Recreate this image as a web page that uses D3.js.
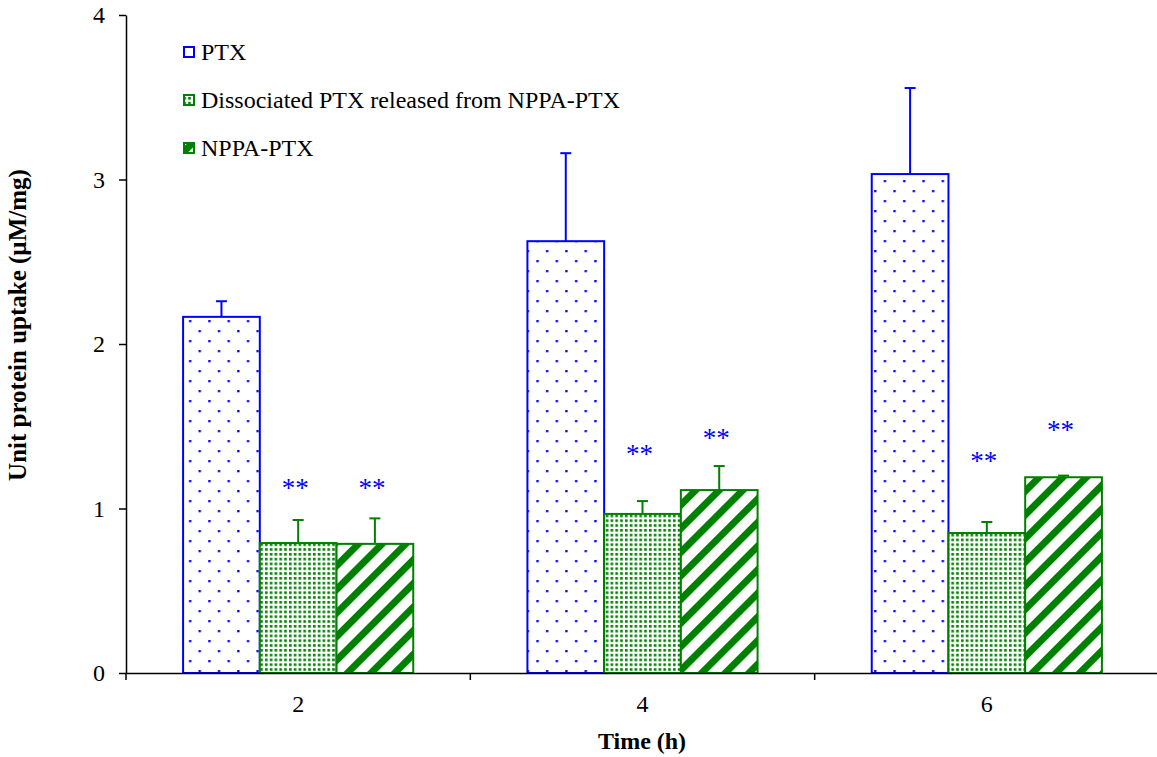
<!DOCTYPE html>
<html><head><meta charset="utf-8">
<script src="https://cdn.jsdelivr.net/npm/d3@7"></script>
<style>body{margin:0;background:#fff}svg{display:block}</style>
</head><body>
<svg id="c" width="1157" height="757"></svg>
<script>
const categories = ["2", "4", "6"];
const seriesNames = ["PTX", "Dissociated PTX released from NPPA-PTX", "NPPA-PTX"];
const ptx = [2.165, 2.625, 3.033];
const ptxErr = [0.095, 0.535, 0.523];
const dissociated = [0.79, 0.967, 0.851];
const dissociatedErr = [0.14, 0.078, 0.067];
const nppa = [0.785, 1.112, 1.19];
const nppaErr = [0.155, 0.146, 0.01];
const sigDissociated = [1.155, 1.362, 1.319];
const sigNppa = [1.155, 1.459, 1.508];
const yTicks = [0, 1, 2, 3, 4];

const FONT = "'Liberation Serif', 'Times New Roman', Times, serif";
const svg = d3.select("#c").attr("font-family", FONT);
const blue = "#0000ff", green = "#008000";
const defs = svg.append("defs");
// PTX dots
const p1 = defs.append("pattern").attr("id","pDots").attr("patternUnits","userSpaceOnUse")
  .attr("width",19.3).attr("height",20).attr("x",183).attr("y",0);
p1.append("rect").attr("x",6).attr("y",0).attr("width",2.3).attr("height",2.3).attr("fill",blue);
p1.append("rect").attr("x",15.6).attr("y",10).attr("width",2.3).attr("height",2.3).attr("fill",blue);
// dissociated fine grid
const p2 = defs.append("pattern").attr("id","pGrid").attr("patternUnits","userSpaceOnUse")
  .attr("width",4.8).attr("height",4.8);
p2.append("rect").attr("width",4.8).attr("height",4.8).attr("fill","#fff");
p2.append("rect").attr("x",1).attr("y",1).attr("width",2.6).attr("height",2.6).attr("fill",green);
// stripes
const p3 = defs.append("pattern").attr("id","pStripe").attr("patternUnits","userSpaceOnUse")
  .attr("width",16.7).attr("height",16.7).attr("patternTransform","rotate(45)");
p3.append("rect").attr("width",16.7).attr("height",16.7).attr("fill","#fff");
p3.append("rect").attr("x",0).attr("y",0).attr("width",7).attr("height",16.7).attr("fill",green);

const fills = ["url(#pDots)", "url(#pGrid)", "url(#pStripe)"];
const strokes = [blue, green, green];
const values = [ptx, dissociated, nppa];
const errs = [ptxErr, dissociatedErr, nppaErr];

const x0 = d3.scaleBand().domain(categories).range([126, 1159]).paddingInner(0).paddingOuter(0);
const x1 = d3.scaleBand().domain(d3.range(3)).range([0, x0.bandwidth()]).paddingInner(0).paddingOuter(0.744);
const y = d3.scaleLinear().domain([0, 4]).range([673, 15]);

// bars
values.forEach((vals, s) => {
  const g = svg.append("g");
  g.selectAll("rect").data(categories).join("rect")
    .attr("x", (c) => x0(c) + x1(s))
    .attr("y", (c, i) => y(vals[i]))
    .attr("width", x1.bandwidth())
    .attr("height", (c, i) => y(0) - y(vals[i]))
    .attr("fill", "#fff");
  g.selectAll("rect.p").data(categories).join("rect").attr("class","p")
    .attr("x", (c) => x0(c) + x1(s))
    .attr("y", (c, i) => y(vals[i]))
    .attr("width", x1.bandwidth())
    .attr("height", (c, i) => y(0) - y(vals[i]))
    .attr("fill", fills[s]).attr("stroke", strokes[s]).attr("stroke-width", 2);
  const eg = svg.append("g").attr("stroke", strokes[s]).attr("stroke-width", 2);
  categories.forEach((c, i) => {
    const cx = x0(c) + x1(s) + x1.bandwidth() / 2;
    eg.append("line").attr("x1", cx).attr("x2", cx).attr("y1", y(vals[i])).attr("y2", y(vals[i] + errs[s][i]));
    eg.append("line").attr("x1", cx - 5.5).attr("x2", cx + 5.5).attr("y1", y(vals[i] + errs[s][i])).attr("y2", y(vals[i] + errs[s][i]));
  });
});

// significance markers
[[1, sigDissociated], [2, sigNppa]].forEach(([s, arr]) => {
  svg.append("g").selectAll("text").data(categories).join("text")
    .attr("x", (c) => x0(c) + x1(s) + x1.bandwidth() / 2 - 3)
    .attr("y", (c, i) => y(arr[i]) + 14)
    .attr("text-anchor", "middle").attr("font-size", 27).attr("fill", blue)
    .attr("font-family", FONT)
    .text("**");
});

// axes
const yAxis = d3.axisLeft(y).tickValues(yTicks).tickFormat(d3.format("d")).tickSizeInner(7).tickSizeOuter(0).tickPadding(14);
const gy = svg.append("g").attr("transform", "translate(126,0)").call(yAxis).attr("font-family", FONT).attr("font-size", 24);
gy.select(".domain").attr("stroke", "#000").attr("stroke-width", 1.5);
gy.selectAll(".tick line").attr("stroke", "#000").attr("stroke-width", 1.5);
gy.selectAll(".tick text").attr("fill", "#000");

const xAxis = d3.axisBottom(x0).tickSize(0).tickPadding(22);
const gx = svg.append("g").attr("transform", "translate(0,673)").call(xAxis).attr("font-family", FONT).attr("font-size", 24);
gx.select(".domain").attr("stroke", "#000").attr("stroke-width", 1.5);
gx.selectAll(".tick text").attr("fill", "#000");
gx.selectAll("line.b").data(categories.concat(["end"])).join("line").attr("class","b")
  .attr("x1", (c) => c === "end" ? 1159 : x0(c)).attr("x2", (c) => c === "end" ? 1159 : x0(c))
  .attr("y1", 0).attr("y2", 7).attr("stroke", "#000").attr("stroke-width", 1.5);

// axis titles
svg.append("text").attr("transform", "translate(26,325) rotate(-90)").attr("font-family", FONT)
  .attr("text-anchor", "middle").attr("font-size", 25).attr("font-weight", "bold").text("Unit protein uptake (µM/mg)");
svg.append("text").attr("x", 642).attr("y", 749).attr("font-family", FONT)
  .attr("text-anchor", "middle").attr("font-size", 24).attr("font-weight", "bold").text("Time (h)");

// legend
const leg = svg.append("g");
seriesNames.forEach((n, s) => {
  const cy = 52 + s * 48;
  leg.append("rect").attr("x", 184).attr("y", cy - 5).attr("width", 10).attr("height", 10)
    .attr("fill", fills[s]).attr("stroke", strokes[s]).attr("stroke-width", 2);
  leg.append("text").attr("x", 201).attr("y", cy + 8).attr("font-size", 24).attr("font-family", FONT).text(n);
});
</script>
</body></html>
